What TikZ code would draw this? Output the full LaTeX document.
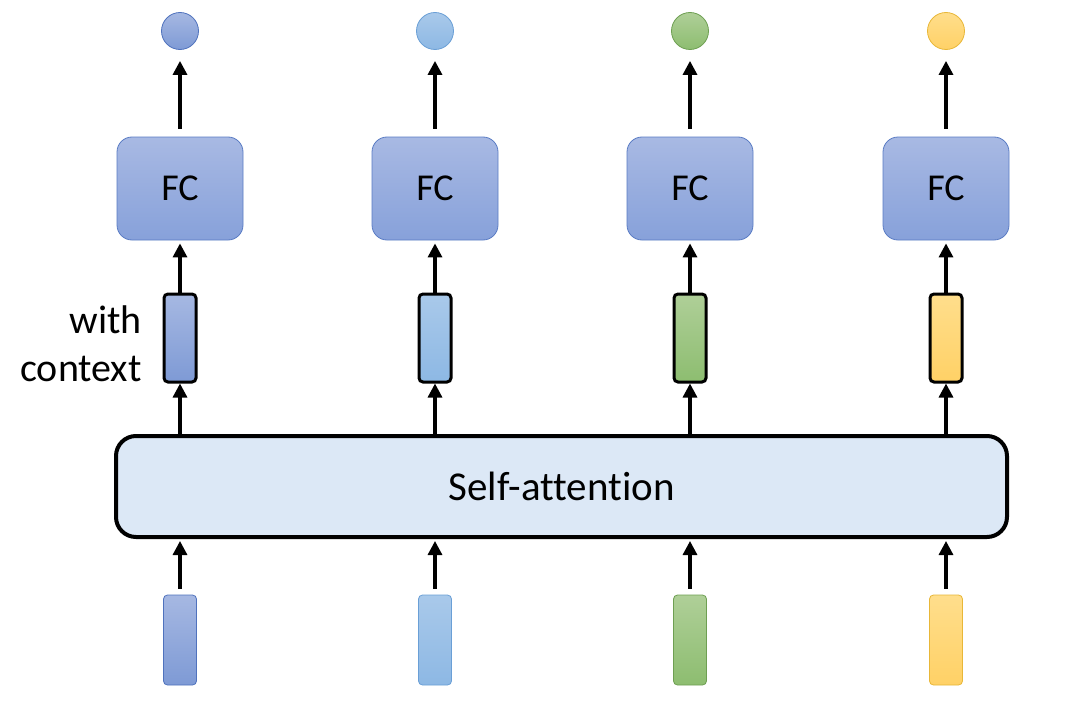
\documentclass[tikz,border=0pt]{standalone}
\usepackage{fontspec}
\setmainfont[Ligatures=NoCommon]{Carlito}
\usetikzlibrary{arrows.meta}
\definecolor{b1top}{HTML}{A6B8E2}\definecolor{b1bot}{HTML}{7E9AD5}\definecolor{b1d}{HTML}{4F72BD}
\definecolor{b2top}{HTML}{A9C9EA}\definecolor{b2bot}{HTML}{8DB8E4}\definecolor{b2d}{HTML}{6A9FD6}
\definecolor{g3top}{HTML}{AFCF98}\definecolor{g3bot}{HTML}{8DBD70}\definecolor{g3d}{HTML}{6E9F52}
\definecolor{y4top}{HTML}{FFDE8C}\definecolor{y4bot}{HTML}{FFD166}\definecolor{y4d}{HTML}{E8B738}
\definecolor{fctop}{HTML}{A8B9E3}\definecolor{fcbot}{HTML}{87A1DA}\definecolor{fcd}{HTML}{5A7CC4}
\definecolor{safill}{HTML}{DCE8F6}
\tikzset{
  arr/.style={line width=3.2pt,-{Triangle[width=14pt,length=14pt]}},
  fcbox/.style={rounded corners=15pt,minimum width=126pt,minimum height=103pt,top color=fctop,bottom color=fcbot,draw=fcd,line width=0.8pt,font=\fontsize{38}{44}\selectfont,inner sep=0pt},
  ctx/.style={rounded corners=4pt,minimum width=32pt,minimum height=88pt,draw=black,line width=3pt,inner sep=0pt},
  inp/.style={rounded corners=4pt,minimum width=33pt,minimum height=90pt,line width=0.8pt,inner sep=0pt},
  outc/.style={circle,minimum size=37pt,line width=0.8pt,inner sep=0pt},
  lbl/.style={font=\fontsize{40}{48}\selectfont,inner sep=0pt}
}
\begin{document}
\begin{tikzpicture}[x=1pt,y=-1pt]
\useasboundingbox[fill=white] (0,0) rectangle (1088,701);
% self-attention
\node[rounded corners=20pt,minimum width=891pt,minimum height=101pt,fill=safill,draw=black,line width=4pt,inner sep=0pt,font=\fontsize{41}{48}\selectfont] (sa) at (561.5,486.5) {Self-attention};
% columns
\foreach \i/\x/\ct/\cb/\cd in {1/180/b1top/b1bot/b1d,2/435/b2top/b2bot/b2d,3/690/g3top/g3bot/g3d,4/946/y4top/y4bot/y4d}{
  \node[outc,top color=\ct,bottom color=\cb,draw=\cd] (c\i) at (\x,31) {};
  \node[fcbox] (fc\i) at (\x,188.5) {FC};
  \node[ctx,top color=\ct,bottom color=\cb] (x\i) at (\x,338) {};
  \node[inp,top color=\ct,bottom color=\cb,draw=\cd] (in\i) at (\x,640) {};
  \draw[arr] ([yshift=8pt]fc\i.north) -- ([yshift=-11pt]c\i.south);
  \draw[arr] (x\i.north) -- ([yshift=-3pt]fc\i.south);
  \draw[arr] (sa.north -| x\i) -- (x\i.south);
  \draw[arr] ([yshift=6pt]in\i.north) -- ([yshift=-2pt]sa.south -| in\i);
}
\node[lbl,anchor=east,align=right] (wc) at (142,344) {with\\context};
\end{tikzpicture}
\end{document}
